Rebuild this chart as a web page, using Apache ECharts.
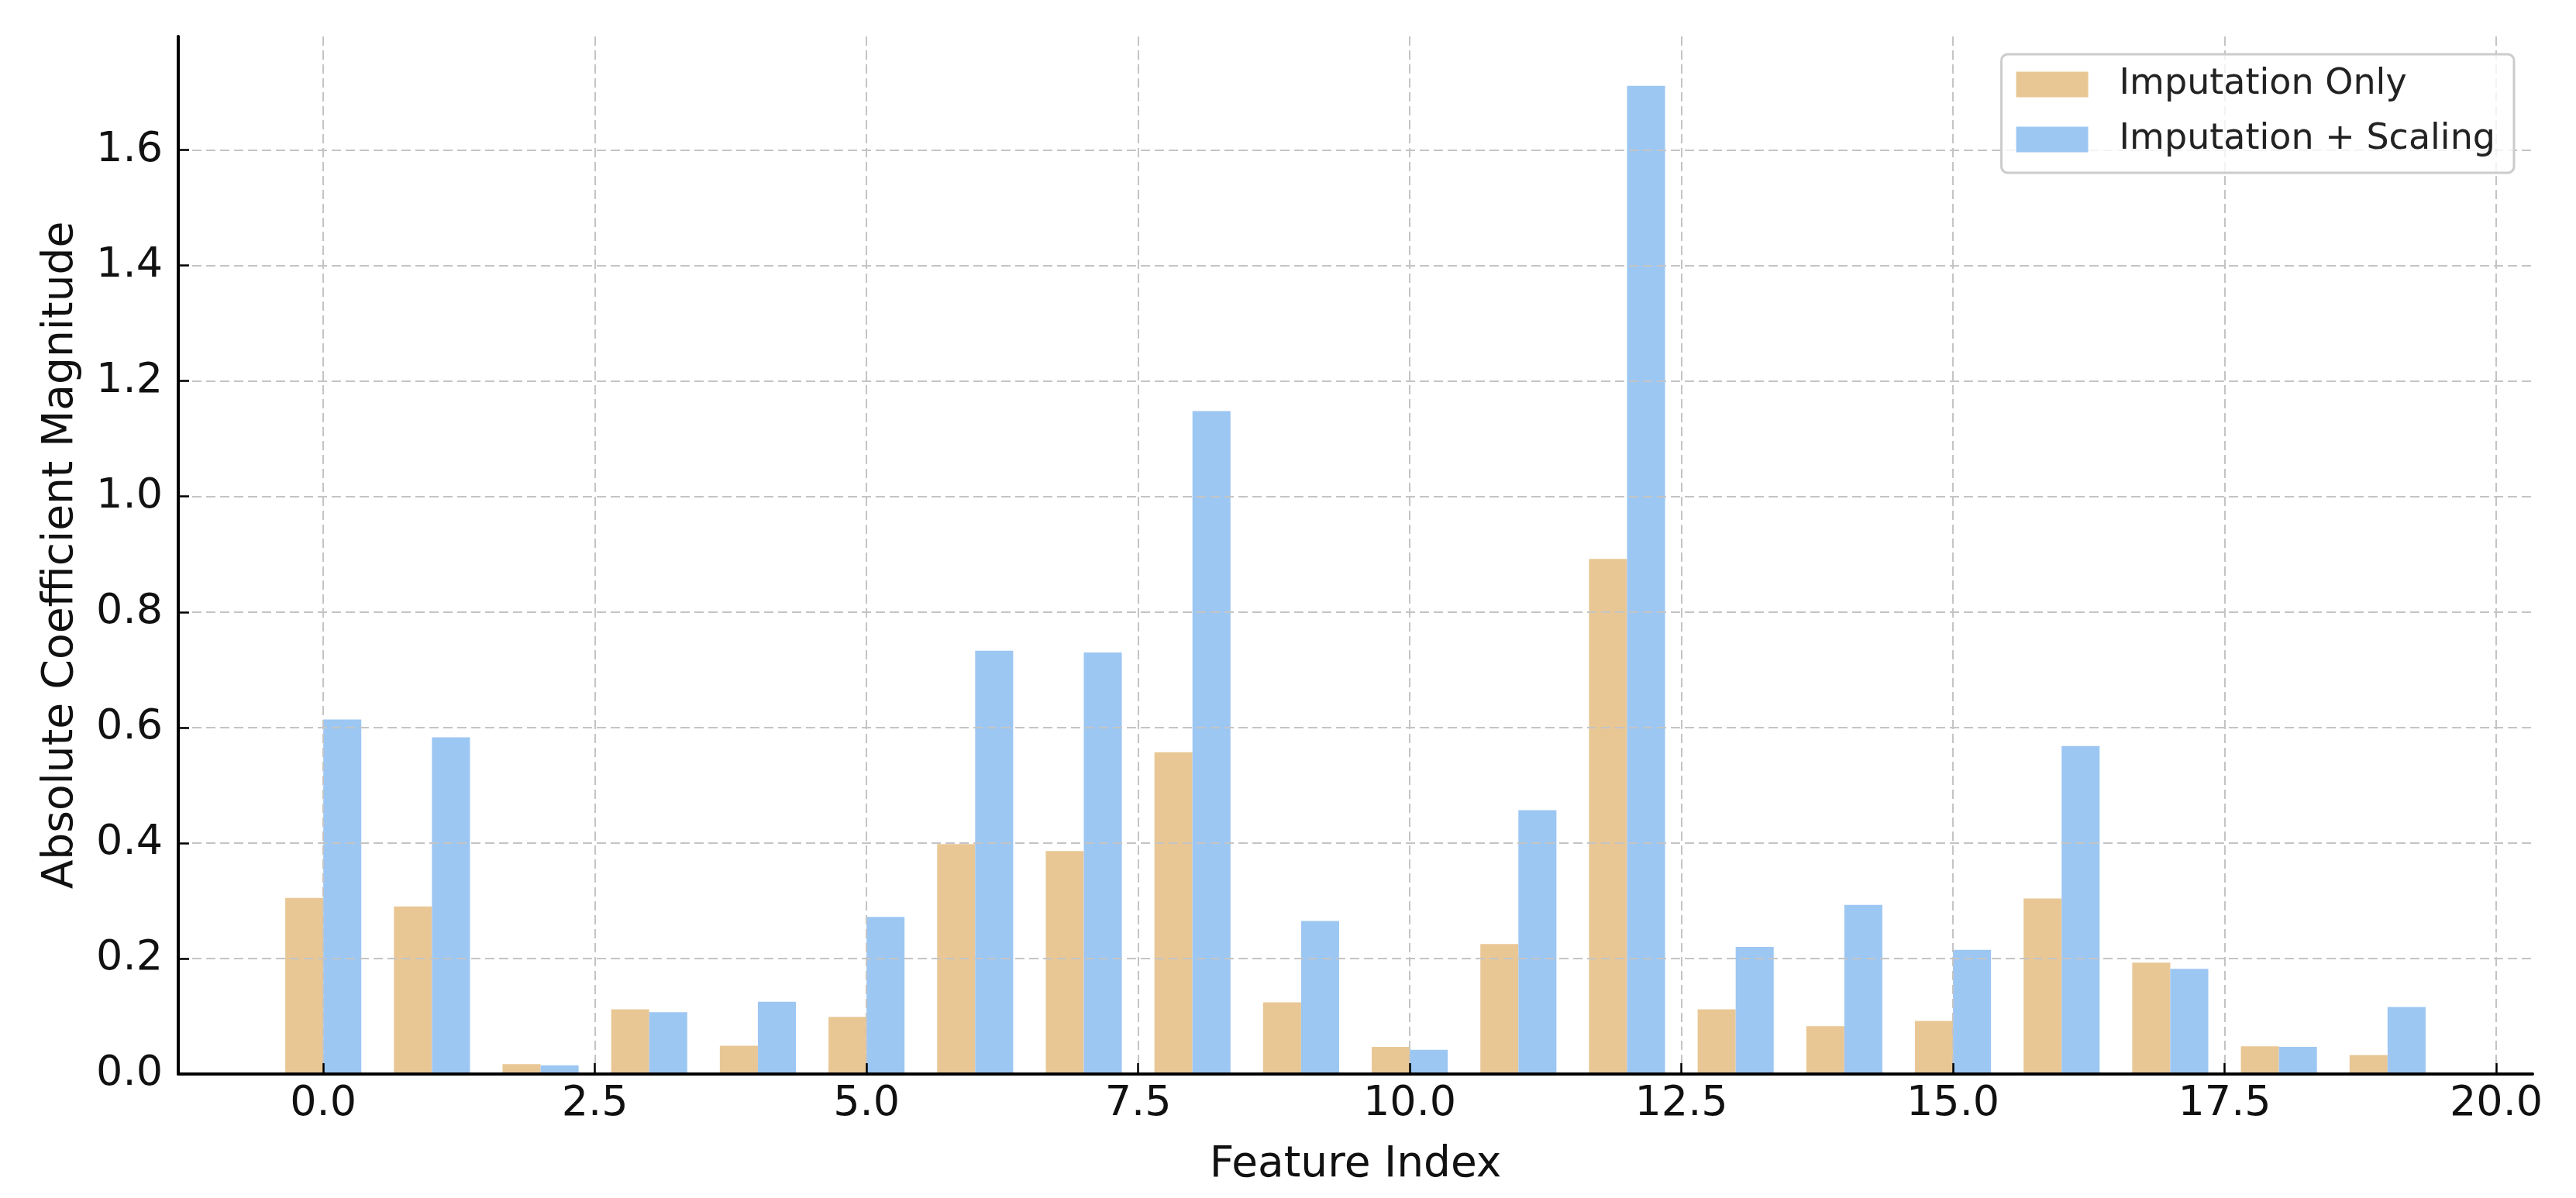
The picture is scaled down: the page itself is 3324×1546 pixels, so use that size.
<!DOCTYPE html>
<html>
<head>
<meta charset="utf-8">
<script src="https://cdn.jsdelivr.net/npm/echarts@6/dist/echarts.min.js"></script>
<style>
html,body{margin:0;padding:0;background:#fff;}
#chart{width:3324px;height:1546px;}
</style>
</head>
<body>
<div id="chart"></div>
<script>
const features = [0,1,2,3,4,5,6,7,8,9,10,11,12,13,14,15,16,17,18,19];
const imputationOnly = [0.305,0.290,0.017,0.112,0.049,0.099,0.398,0.386,0.557,0.124,0.047,0.225,0.892,0.112,0.083,0.092,0.304,0.193,0.048,0.033];
const imputationScaling = [0.614,0.583,0.015,0.107,0.125,0.272,0.733,0.730,1.148,0.265,0.042,0.457,1.711,0.220,0.293,0.215,0.568,0.182,0.047,0.116];
const xTicks = [0,2.5,5,7.5,10,12.5,15,17.5,20];
const yTicks = [0,0.2,0.4,0.6,0.8,1.0,1.2,1.4,1.6];
const seriesNames = ['Imputation Only','Imputation + Scaling'];

const xMin = -1.335, xMax = 20.335, yMin = 0, yMax = 1.7966;
const gridL = 230, gridR = 56, gridT = 47, gridB = 160;
const W = 3324;
const pxPerUnit = (W - gridL - gridR) / (xMax - xMin);
const barW = 0.35 * pxPerUnit;

const font = 'DejaVu Sans';
const gridLine = {show:true, lineStyle:{color:'#c4c4c4', width:2, type:[12,6]}};

const chart = echarts.init(document.getElementById('chart'), null, {renderer:'canvas'});
chart.setOption({
  animation:false,
  backgroundColor:'#ffffff',
  grid:{left:gridL, right:gridR, top:gridT, bottom:gridB, containLabel:false},
  legend:{
    orient:'vertical', right:80, top:70,
    padding:[16,24,20,19],
    itemWidth:93, itemHeight:33, itemGap:25,
    icon:'rect',
    borderColor:'#cccccc', borderWidth:3, borderRadius:8,
    backgroundColor:'rgba(255,255,255,0.8)',
    textStyle:{fontFamily:font, fontSize:46, color:'#222', lineHeight:46, padding:[0,0,0,35]},
    data:seriesNames
  },
  xAxis:{
    type:'value', min:xMin, max:xMax, z:3,
    name:'Feature Index', nameLocation:'middle', nameGap:90,
    nameTextStyle:{fontFamily:font, fontSize:55, color:'#111'},
    axisLine:{show:true, onZero:false, lineStyle:{color:'#000', width:4}},
    axisTick:{show:true, inside:true, length:14, lineStyle:{color:'#000', width:2.5}, customValues:xTicks},
    axisLabel:{show:true, fontFamily:font, fontSize:54, color:'#111', margin:12, customValues:xTicks,
      formatter:function(v){return Number(v).toFixed(1);}},
    splitLine:gridLine
  },
  yAxis:{
    type:'value', min:yMin, max:yMax, z:3,
    name:'Absolute Coefficient Magnitude', nameLocation:'middle', nameGap:124,
    nameTextStyle:{fontFamily:font, fontSize:55, color:'#111'},
    axisLine:{show:true, onZero:false, lineStyle:{color:'#000', width:4}},
    axisTick:{show:true, inside:true, length:14, lineStyle:{color:'#000', width:2.5}, customValues:yTicks},
    axisLabel:{show:true, fontFamily:font, fontSize:54, color:'#111', margin:20, customValues:yTicks,
      formatter:function(v){return Number(v).toFixed(1);}},
    splitLine:gridLine
  },
  series:[
    {name:seriesNames[0], type:'bar', barWidth:barW, barGap:'0%',
     itemStyle:{color:'#E9C795'}, z:2,
     data:features.map((f,i)=>[f, imputationOnly[i]])},
    {name:seriesNames[1], type:'bar', barWidth:barW, barGap:'0%',
     itemStyle:{color:'#9DC7F3'}, z:2,
     data:features.map((f,i)=>[f, imputationScaling[i]])}
  ]
});
</script>
</body>
</html>
